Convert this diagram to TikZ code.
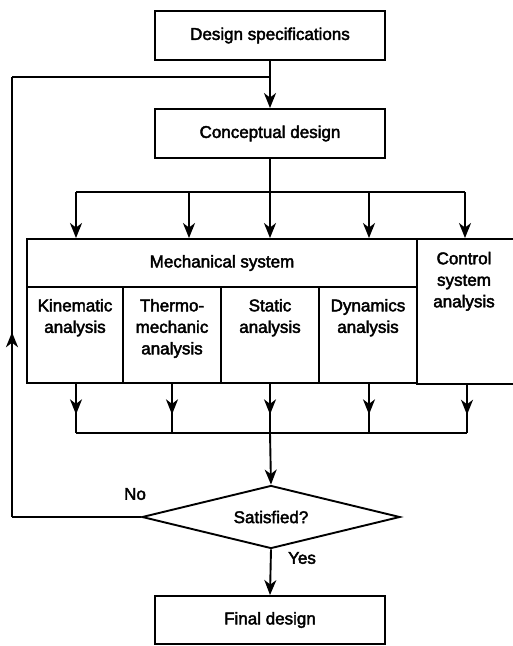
\documentclass[tikz,border=0pt]{standalone}
\usepackage{fontspec}
\setmainfont{Liberation Sans}[FakeBold=2.5]
\usetikzlibrary{shapes.geometric,arrows.meta,decorations.markings}
\begin{document}
\begin{tikzpicture}[x=1pt,y=-1pt,
  line width=1.9pt,
  every node/.style={font=\fontsize{17}{21.5}\selectfont},
  box/.style={draw, rectangle, inner sep=0pt, minimum width=230pt, minimum height=49pt},
  cell/.style={draw, rectangle, inner sep=0pt},
  celltext/.style={anchor=north, align=center, inner sep=0pt},
  arr/.style={-{Stealth[length=15pt,width=12pt,inset=4.5pt]}},
  midarr/.style={postaction={decorate}, decoration={markings, mark=at position #1 with {\arrow{Stealth[length=15pt,width=12pt,inset=4.5pt]}}}},
  midarr/.default=0.62,
  dec/.style={draw, diamond, aspect=4, inner sep=0pt, minimum width=258pt, minimum height=63pt}
]
\useasboundingbox (0,0) rectangle (512,646);

\node[box] (spec) at (270,35.5) {Design specifications};
\node[box] (concept) at (270,133.5) {Conceptual design};

\node[cell, minimum width=390pt, minimum height=48pt] (mech) at (222,263) {Mechanical system};
\node[cell, minimum width=96pt, minimum height=96pt] (kin) at (75,335) {};
\node[cell, minimum width=98pt, minimum height=96pt] (thermo) at (172,335) {};
\node[cell, minimum width=98pt, minimum height=96pt] (stat) at (270,335) {};
\node[cell, minimum width=98pt, minimum height=96pt] (dyn) at (368,335) {};
\node[cell, minimum width=100pt, minimum height=145pt] (ctrl) at (467,311.5) {};

\node[celltext] (kint) at ([yshift=-12pt]kin.north) {Kinematic\\analysis};
\node[celltext] (thermot) at ([yshift=-12pt]thermo.north) {Thermo-\\mechanic\\analysis};
\node[celltext] (statt) at ([yshift=-12pt]stat.north) {Static\\analysis};
\node[celltext] (dynt) at ([yshift=-12pt]dyn.north) {Dynamics\\analysis};
\node[celltext] (ctrlt) at (464,251) {Control\\system\\analysis};

\node[dec] (sat) at (271,517) {Satisfied?};
\node[box, minimum height=48pt] (final) at (270,620) {Final design};

\node (no) at (135,494) {No};
\node (yes) at (302,558) {Yes};

% feedback loop
\coordinate (fbtop) at (12,77);
\coordinate (fbbot) at (12,517);
\coordinate (join) at (270,77);
\draw (sat.west) -- (fbbot);
\draw[midarr=0.42] (fbbot) -- (fbtop);
\draw (fbtop) -- (join);
\draw (spec.south) -- (join);
\draw[arr] (join) -- (concept.north);

% distribution bus
\coordinate (busL) at (76,192);
\coordinate (busR) at (465,192);
\coordinate (busC) at (270,192);
\draw (concept.south) -- (busC);
\draw (busL) -- (busR);
\draw[arr] (busL) -- (busL |- mech.north);
\draw[arr] (189,192) coordinate (b2) -- (b2 |- mech.north);
\draw[arr] (busC) -- (busC |- mech.north);
\draw[arr] (369,192) coordinate (b4) -- (b4 |- mech.north);
\draw[arr] (busR) -- (busR |- ctrl.north);

% collection bus
\coordinate (cL) at (76,433);
\coordinate (cR) at (467,433);
\coordinate (cC) at (270,433);
\coordinate (c2) at (172,433);
\coordinate (c4) at (369,433);
\draw (cL) -- (cR);
\draw[midarr] (cL |- kin.south) -- (cL);
\draw[midarr] (c2 |- thermo.south) -- (c2);
\draw[midarr] (cC |- stat.south) -- (cC);
\draw[midarr] (c4 |- dyn.south) -- (c4);
\draw[midarr] (cR |- ctrl.south) -- (cR);
\draw[arr] (cC) -- (sat.north);
\draw[arr] (sat.south) -- (final.north);
\end{tikzpicture}
\end{document}
